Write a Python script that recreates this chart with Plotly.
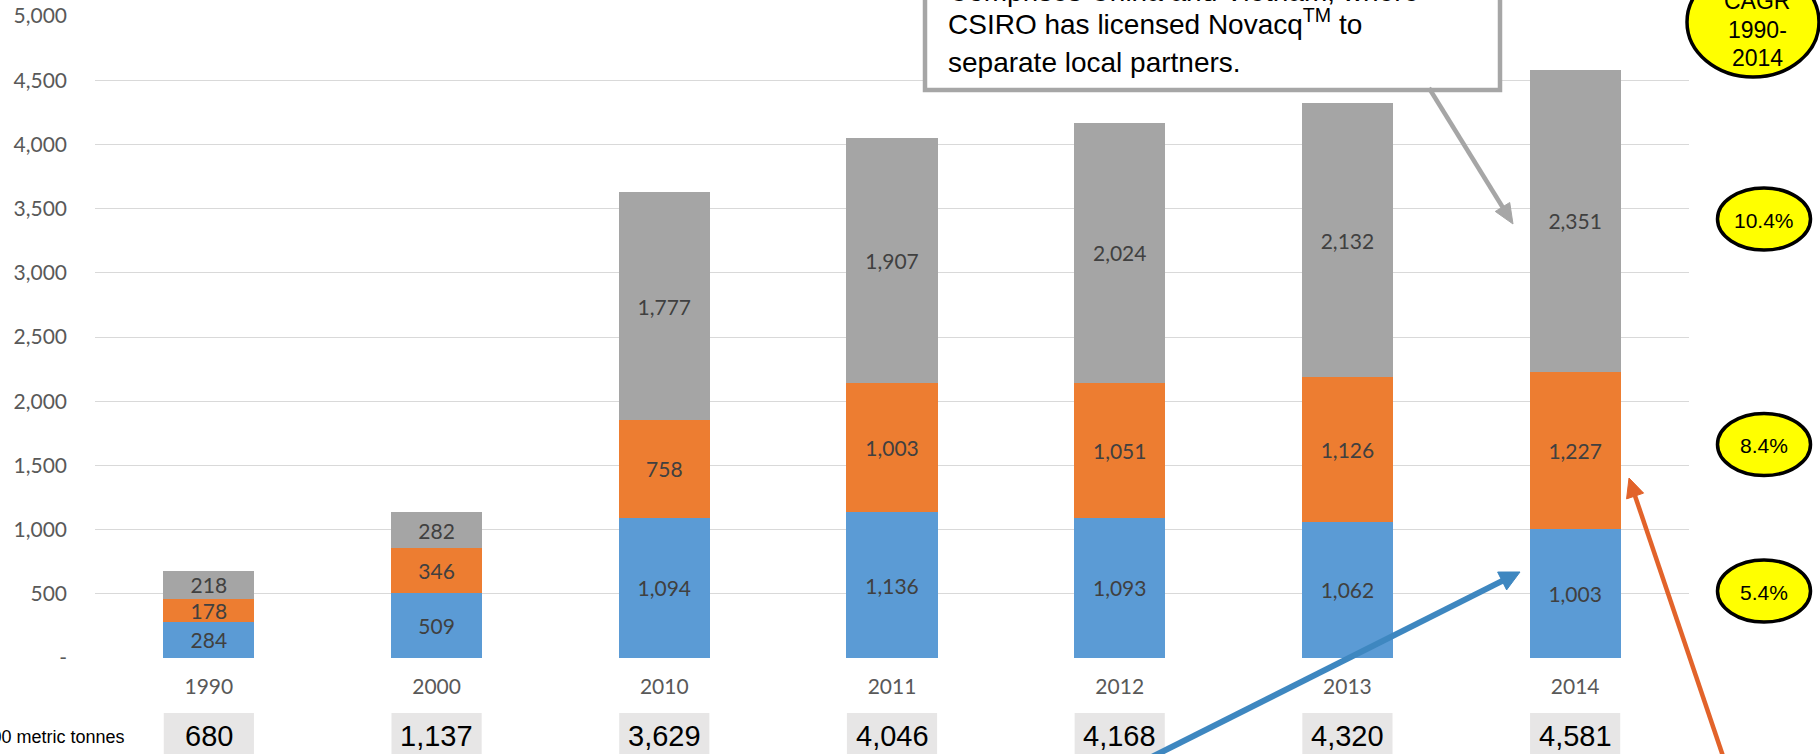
import math
import plotly.graph_objects as go

# ---- data ----
years = ["1990", "2000", "2010", "2011", "2012", "2013", "2014"]
blue_vals = [284, 509, 1094, 1136, 1093, 1062, 1003]
orange_vals = [178, 346, 758, 1003, 1051, 1126, 1227]
gray_vals = [218, 282, 1777, 1907, 2024, 2132, 2351]
totals = [680, 1137, 3629, 4046, 4168, 4320, 4581]
y_ticks = [0, 500, 1000, 1500, 2000, 2500, 3000, 3500, 4000, 4500, 5000]
y_ticktext = ["-", "500", "1,000", "1,500", "2,000", "2,500", "3,000", "3,500", "4,000", "4,500", "5,000"]
cagr_labels = ["10.4%", "8.4%", "5.4%"]
callout_lines = ["Comprises China and Vietnam, where",
                 "CSIRO has licensed Novacq<sup>TM</sup> to",
                 "separate local partners."]
cagr_title = ["CAGR", "1990-", "2014"]

# ---- layout geometry ----
W, H = 1820, 754
L, R, T, B = 95, 131, 16, 96
PW, PH = W - L - R, H - T - B


def fx(px):
    return (px - L) / PW


def fy(py):
    return (H - B - py) / PH


BLUE, ORANGE, GRAY = "#5b9bd5", "#ed7d31", "#a5a5a5"
LABEL_FONT = dict(family="Lato, Carlito, Calibri, sans-serif", size=21, color="#404040")
AX_FONT = dict(family="Lato, Carlito, Calibri, sans-serif", size=21, color="#595959")
ARIAL = "Liberation Sans, Arial, sans-serif"

fig = go.Figure()
for vals, col in [(blue_vals, BLUE), (orange_vals, ORANGE), (gray_vals, GRAY)]:
    fig.add_trace(go.Bar(
        x=years, y=vals, marker=dict(color=col, line=dict(width=0)),
        texttemplate="%{y:,}", textposition="inside", insidetextanchor="middle",
        textfont=LABEL_FONT, hoverinfo="skip", showlegend=False,
    ))

shapes = []
annotations = []

# totals boxes under the axis (x given as category index)
for i, tot in enumerate(totals):
    shapes.append(dict(type="rect", xref="x", yref="paper", x0=i - 0.198, x1=i + 0.198,
                       y0=fy(713), y1=fy(770), fillcolor="#e7e6e6", line=dict(width=0),
                       layer="above"))
    annotations.append(dict(
        x=i, xref="x", y=fy(736), yref="paper", xanchor="center", yanchor="middle",
        text=f"{tot:,}", showarrow=False,
        font=dict(family=ARIAL, size=29, color="#000000"),
    ))

annotations.append(dict(
    x=fx(127), xref="paper", y=fy(737), yref="paper", xanchor="right", yanchor="middle",
    text="'000 metric tonnes", showarrow=False,
    font=dict(family=ARIAL, size=18, color="#000000"),
))

# callout box
shapes.append(dict(type="rect", xref="paper", yref="paper",
                   x0=fx(925), x1=fx(1500), y0=fy(90), y1=fy(-60),
                   line=dict(color="#a6a6a6", width=4.5), fillcolor="white", layer="above"))
for line, cy in zip(callout_lines, [-8, 22, 62]):
    annotations.append(dict(
        x=fx(946), xref="paper", y=fy(cy), yref="paper", xanchor="left", yanchor="middle",
        text=line, showarrow=False, font=dict(family=ARIAL, size=28, color="#000000"),
    ))


def arrow(tail, tip, lw, color, hl, hw):
    dx, dy = tip[0] - tail[0], tip[1] - tail[1]
    n = math.hypot(dx, dy)
    ux, uy = dx / n, dy / n
    bx, by = tip[0] - hl * ux, tip[1] - hl * uy
    px_, py_ = -uy, ux
    p1 = (bx + hw / 2 * px_, by + hw / 2 * py_)
    p2 = (bx - hw / 2 * px_, by - hw / 2 * py_)
    ex, ey = bx + 3 * ux, by + 3 * uy
    out = [dict(type="line", xref="paper", yref="paper",
                x0=fx(tail[0]), y0=fy(tail[1]), x1=fx(ex), y1=fy(ey),
                line=dict(color=color, width=lw), layer="above")]
    path = "M {:.5f} {:.5f} L {:.5f} {:.5f} L {:.5f} {:.5f} Z".format(
        fx(tip[0]), fy(tip[1]), fx(p1[0]), fy(p1[1]), fx(p2[0]), fy(p2[1]))
    out.append(dict(type="path", xref="paper", yref="paper", path=path,
                    fillcolor=color, line=dict(color=color, width=1), layer="above"))
    return out


shapes += arrow((1429, 88), (1513, 224), 4.5, "#a6a6a6", 20, 17)
shapes += arrow((1100, 783), (1520, 572), 6, "#3e87c0", 20, 20)
shapes += arrow((1725, 762), (1629, 478), 4.5, "#e2632a", 19, 18)

# CAGR ellipses
ell = [(1753, 22, 66, 55)]
for cy in [219, 444.5, 591]:
    ell.append((1764, cy, 46.5, 31))
for (cx, cy, rx, ry) in ell:
    shapes.append(dict(type="circle", xref="paper", yref="paper",
                       x0=fx(cx - rx), x1=fx(cx + rx), y0=fy(cy + ry), y1=fy(cy - ry),
                       fillcolor="#ffff00", line=dict(color="#000000", width=3.5), layer="above"))
for txt, cy in zip(cagr_title, [1, 30, 58]):
    annotations.append(dict(x=fx(1757), y=fy(cy), xref="paper", yref="paper",
                            xanchor="center", yanchor="middle", text=txt, showarrow=False,
                            font=dict(family=ARIAL, size=23, color="#000000")))
for txt, (cx, cy, rx, ry) in zip(cagr_labels, ell[1:]):
    annotations.append(dict(x=fx(cx), y=fy(cy + 1), xref="paper", yref="paper",
                            xanchor="center", yanchor="middle", text=txt, showarrow=False,
                            font=dict(family=ARIAL, size=21, color="#000000")))

fig.update_layout(
    width=W, height=H, margin=dict(l=L, r=R, t=T, b=B, pad=0, autoexpand=False),
    barmode="stack", bargap=0.6,
    paper_bgcolor="white", plot_bgcolor="white",
    uniformtext=dict(mode="show", minsize=21),
    shapes=shapes, annotations=annotations,
    xaxis=dict(type="category", range=[-0.5, 6.5], autorange=False, automargin=False,
               showgrid=False, showline=False, ticks="",
               tickfont=AX_FONT, ticklabelstandoff=14),
    yaxis=dict(range=[0, 5000], autorange=False, automargin=False,
               tickvals=y_ticks, ticktext=y_ticktext,
               showgrid=True, gridcolor="#d9d9d9", gridwidth=1.3, zeroline=False,
               showline=False, ticks="", tickfont=AX_FONT, ticklabelstandoff=27),
    showlegend=False,
)

fig.write_html("out.html")
